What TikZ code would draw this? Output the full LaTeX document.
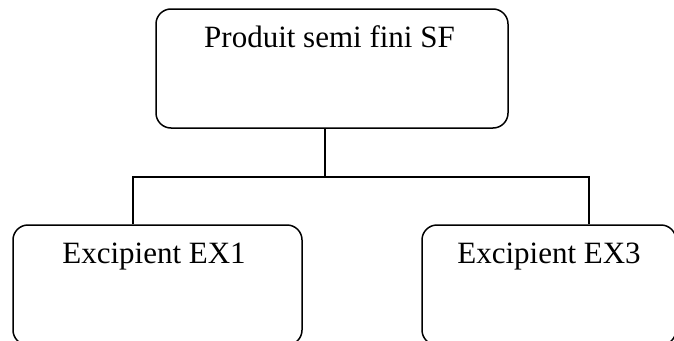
\documentclass[tikz,border=0pt]{standalone}
\usepackage{fontspec}
\setmainfont{Liberation Serif}
\begin{document}
\begin{tikzpicture}[x=1pt,y=-1pt,
  box/.style={draw, line width=1.5pt, rounded corners=15pt, inner sep=0pt},
  lbl/.style={anchor=base, inner sep=0pt, font=\fontsize{31}{37}\selectfont},
  link/.style={draw, line width=1.5pt}]
\useasboundingbox (0,0) rectangle (674,340);

% boxes
\node[box, minimum width=352pt, minimum height=119pt] (sf)  at (332,68.5) {};
\node[box, minimum width=289pt, minimum height=120pt] (ex1) at (157.5,285) {};
\node[box, minimum width=254pt, minimum height=120pt] (ex3) at (549,285) {};

% captions
\node[lbl] (tsf)  at (329.5,47) {Produit semi fini SF};
\node[lbl] (tex1) at (154,263) {Excipient EX1};
\node[lbl] (tex3) at (549,263) {Excipient EX3};

% tree connectors
\coordinate (j)  at (325,177);
\coordinate (jl) at (133,177);
\coordinate (jr) at (589,177);
\draw[link] (j |- sf.south) -- (j);
\draw[link] (jl |- ex1.north) -- (jl) -- (jr) -- (jr |- ex3.north);
\end{tikzpicture}
\end{document}
